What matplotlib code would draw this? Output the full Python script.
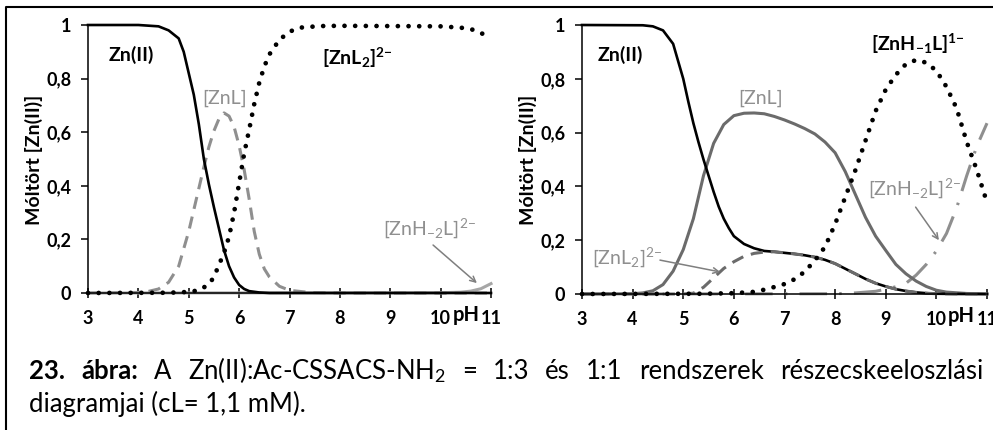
import matplotlib
matplotlib.use('Agg')
import matplotlib.pyplot as plt
from matplotlib.lines import Line2D

plt.rcParams['font.family'] = ['Lato', 'DejaVu Sans']
plt.rcParams['mathtext.fontset'] = 'custom'
plt.rcParams['mathtext.rm'] = 'Lato'
plt.rcParams['mathtext.bf'] = 'Lato:bold'
plt.rcParams['mathtext.it'] = 'Lato:italic'

# ---- 1:3 system (left) ----
ph_l_zn = [3.0, 4.0, 4.4, 4.6, 4.8, 4.9, 5.0, 5.1, 5.2, 5.3, 5.4, 5.5, 5.6, 5.7, 5.8,
           5.9, 6.0, 6.1, 6.2, 6.4, 6.6, 11.0]
l_zn = [1.0, 1.0, 0.995, 0.98, 0.95, 0.9, 0.82, 0.74, 0.63, 0.50, 0.405, 0.32, 0.24,
        0.16, 0.10, 0.058, 0.03, 0.015, 0.007, 0.002, 0.0, 0.0]

ph_l_znl = [3.0, 4.0, 4.2, 4.4, 4.6, 4.8, 5.0, 5.1, 5.2, 5.3, 5.4, 5.5, 5.6, 5.7, 5.8,
            5.9, 6.0, 6.1, 6.2, 6.3, 6.4, 6.5, 6.6, 6.8, 7.0, 7.4, 8.0, 11.0]
l_znl = [0.0, 0.002, 0.006, 0.015, 0.04, 0.10, 0.23, 0.31, 0.39, 0.47, 0.545, 0.605,
         0.65, 0.672, 0.66, 0.62, 0.55, 0.46, 0.35, 0.23, 0.145, 0.09, 0.06, 0.025,
         0.01, 0.002, 0.0, 0.0]

ph_l_znl2 = [3.0, 4.6, 5.0, 5.2, 5.4, 5.5, 5.6, 5.7, 5.8, 5.9, 6.0, 6.1, 6.2, 6.3, 6.4,
             6.5, 6.6, 6.8, 7.0, 7.2, 7.6, 8.0, 10.0, 10.4, 10.6, 10.8, 11.0]
l_znl2 = [0.0, 0.001, 0.004, 0.01, 0.032, 0.06, 0.105, 0.15, 0.21, 0.30, 0.41, 0.52,
          0.61, 0.705, 0.785, 0.845, 0.89, 0.945, 0.975, 0.99, 0.996, 0.997, 0.995,
          0.99, 0.985, 0.97, 0.953]

ph_l_znh2l = [3.0, 10.0, 10.4, 10.6, 10.8, 11.0]
l_znh2l = [0.0, 0.001, 0.003, 0.007, 0.016, 0.035]

# ---- 1:1 system (right) ----
ph_r_zn = [3.0, 4.2, 4.4, 4.6, 4.8, 5.0, 5.1, 5.2, 5.3, 5.4, 5.5, 5.6, 5.7, 5.8, 5.9,
           6.0, 6.2, 6.4, 6.6, 6.8, 7.0, 7.2, 7.4, 7.6, 7.8, 8.0, 8.2, 8.4, 8.6, 8.8,
           9.0, 9.2, 9.4, 9.6, 9.8, 10.0, 10.5, 11.0]
r_zn = [1.0, 0.999, 0.995, 0.98, 0.93, 0.80, 0.715, 0.635, 0.565, 0.50, 0.44, 0.38,
        0.325, 0.28, 0.245, 0.215, 0.186, 0.17, 0.16, 0.157, 0.153, 0.149, 0.144,
        0.137, 0.127, 0.113, 0.094, 0.075, 0.056, 0.04, 0.028, 0.018, 0.011, 0.006,
        0.003, 0.001, 0.0, 0.0]

ph_r_znl = [3.0, 4.0, 4.2, 4.4, 4.6, 4.8, 5.0, 5.2, 5.4, 5.6, 5.8, 6.0, 6.2, 6.4, 6.6,
            6.8, 7.0, 7.2, 7.4, 7.6, 7.8, 8.0, 8.2, 8.4, 8.6, 8.8, 9.0, 9.2, 9.4, 9.6,
            9.8, 10.0, 10.2, 10.6, 11.0]
r_znl = [0.0, 0.001, 0.004, 0.012, 0.035, 0.085, 0.165, 0.28, 0.44, 0.56, 0.63, 0.663,
         0.672, 0.673, 0.67, 0.66, 0.647, 0.632, 0.615, 0.595, 0.565, 0.525, 0.455,
         0.37, 0.285, 0.215, 0.162, 0.11, 0.075, 0.048, 0.028, 0.014, 0.007, 0.002, 0.0]

ph_r_znl2 = [3.0, 5.0, 5.2, 5.4, 5.6, 5.8, 6.0, 6.2, 6.4, 6.6, 6.8, 7.0, 7.2, 7.4, 7.6,
             7.8, 8.0, 8.2, 8.4, 8.6, 8.8, 9.0, 9.2, 9.4, 9.6, 9.8, 10.0, 10.5, 11.0]
r_znl2 = [0.0, 0.0, 0.003, 0.025, 0.06, 0.095, 0.12, 0.14, 0.151, 0.156, 0.157, 0.153,
          0.149, 0.144, 0.137, 0.127, 0.113, 0.094, 0.075, 0.056, 0.04, 0.028, 0.018,
          0.011, 0.006, 0.003, 0.001, 0.0, 0.0]

ph_r_znh1l = [3.0, 5.4, 6.0, 6.4, 6.6, 6.8, 7.0, 7.2, 7.4, 7.6, 7.8, 8.0, 8.2, 8.4, 8.6,
              8.8, 9.0, 9.2, 9.4, 9.6, 9.8, 10.0, 10.2, 10.4, 10.6, 10.8, 11.0]
r_znh1l = [0.0, 0.001, 0.003, 0.008, 0.016, 0.026, 0.037, 0.055, 0.083, 0.125, 0.175,
           0.26, 0.36, 0.46, 0.57, 0.68, 0.76, 0.815, 0.855, 0.87, 0.86, 0.83, 0.77,
           0.69, 0.565, 0.46, 0.34]

ph_r_znh2l = [3.0, 8.0, 8.4, 8.8, 9.0, 9.2, 9.4, 9.6, 9.8, 10.0, 10.2, 10.4, 10.6, 10.8, 11.0]
r_znh2l = [0.0, 0.001, 0.004, 0.01, 0.018, 0.027, 0.04, 0.07, 0.11, 0.16, 0.225, 0.32,
           0.44, 0.55, 0.635]

xticks = [3, 4, 5, 6, 7, 8, 9, 10, 11]
yticks = [0, 0.2, 0.4, 0.6, 0.8, 1]
ytick_labels = ['0', '0,2', '0,4', '0,6', '0,8', '1']

W, H = 993, 430
fig = plt.figure(figsize=(W / 100, H / 100), dpi=100)

dotted = dict(color='black', lw=3.4, linestyle=(0, (0.01, 2.25)), dash_capstyle='round')
black_solid = dict(color='black', lw=1.9)
light_gray = '#8f8f8f'
dark_gray = '#6b6b6b'
arrow = dict(arrowstyle='->', color='#7f7f7f', lw=1.1, shrinkA=0, shrinkB=0)
lab = 14


def setup(ax):
    ax.set_xlim(3, 11)
    ax.set_ylim(0, 1)
    for s in ['top', 'right']:
        ax.spines[s].set_visible(False)
    for s in ['left', 'bottom']:
        ax.spines[s].set_linewidth(1.1)
    ax.set_xticks(xticks)
    ax.set_xticklabels([str(t) for t in xticks], fontsize=13, fontweight='bold')
    ax.set_yticks(yticks)
    ax.set_yticklabels(ytick_labels, fontsize=13, fontweight='bold')
    ax.tick_params(axis='x', direction='inout', length=7, width=1.1, pad=9)
    ax.tick_params(axis='y', direction='out', length=5, width=1.1, pad=7)
    ax.text(10.5, -0.083, 'pH', transform=ax.get_xaxis_transform(), ha='center',
            va='center', fontsize=14.5, fontweight='bold')


# left panel
ax1 = fig.add_axes([88 / W, 1 - 293 / H, 403 / W, 268 / H])
setup(ax1)
ax1.plot(ph_l_znh2l, l_znh2l, color='#a6a6a6', lw=2.2, clip_on=False)
ax1.plot(ph_l_znl, l_znl, color=light_gray, lw=2.2, linestyle=(0, (4, 2.6)), clip_on=False)
ax1.plot(ph_l_zn, l_zn, clip_on=False, **black_solid)
ax1.plot(ph_l_znl2, l_znl2, clip_on=False, **dotted)
ax1.text(3.85, 0.89, 'Zn(II)', ha='center', va='center', fontsize=lab, fontweight='bold')
ax1.text(5.72, 0.728, '[ZnL]', ha='center', va='center', fontsize=lab, color=light_gray)
ax1.text(8.34, 0.877, r'[ZnL$_\mathbf{2}$]$^\mathbf{2{-}}$', ha='center', va='center',
         fontsize=lab, fontweight='bold')
ax1.text(9.78, 0.243, r'[ZnH$_{-2}$L]$^{2{-}}$', ha='center', va='center', fontsize=lab,
         color=light_gray)
ax1.annotate('', xy=(10.72, 0.037), xytext=(9.85, 0.179), arrowprops=arrow)

# right panel
ax2 = fig.add_axes([582 / W, 1 - 294 / H, 405 / W, 269 / H])
setup(ax2)
ax2.plot(ph_r_znh2l, r_znh2l, color=light_gray, lw=2.2, linestyle=(0, (9, 4, 0.8, 4)),
         clip_on=False)
ax2.plot(ph_r_znl, r_znl, color=dark_gray, lw=2.2, clip_on=False)
ax2.plot(ph_r_zn, r_zn, clip_on=False, **black_solid)
ax2.plot(ph_r_znl2, r_znl2, color=dark_gray, lw=2.2, linestyle=(0, (4, 2.6)), clip_on=False)
ax2.plot(ph_r_znh1l, r_znh1l, clip_on=False, **dotted)
ax2.text(3.75, 0.887, 'Zn(II)', ha='center', va='center', fontsize=lab, fontweight='bold')
ax2.text(6.52, 0.729, '[ZnL]', ha='center', va='center', fontsize=lab, color=light_gray)
ax2.text(9.63, 0.93, r'[ZnH$_\mathbf{{-}1}$L]$^\mathbf{1{-}}$', ha='center', va='center',
         fontsize=lab, fontweight='bold')
ax2.text(3.9, 0.137, r'[ZnL$_2$]$^{2{-}}$', ha='center', va='center', fontsize=lab,
         color=light_gray)
ax2.text(9.56, 0.394, r'[ZnH$_{-2}$L]$^{2{-}}$', ha='center', va='center', fontsize=lab,
         color=light_gray)
ax2.annotate('', xy=(5.73, 0.082), xytext=(4.54, 0.126), arrowprops=arrow)
ax2.annotate('', xy=(10.05, 0.2), xytext=(9.59, 0.323), arrowprops=arrow)

# y labels
for xc in [34, 528]:
    fig.text(xc / W, 1 - 160 / H, 'Móltört [Zn(II)]', rotation=90, ha='center',
             va='center', fontsize=14, fontweight='bold')

# frame around the figure
fig.add_artist(Line2D([6 / W, 6 / W, 1.01], [-0.01, 1 - 7 / H, 1 - 7 / H],
                      transform=fig.transFigure, color='black', lw=1.5))

# caption, first line justified
cap_words = [('23.', 'bold'), ('ábra:', 'bold'), ('A', 'normal'),
             ('Zn(II):Ac-CSSACS-NH$_2$', 'normal'), ('=', 'normal'), ('1:3', 'normal'),
             ('és', 'normal'), ('1:1', 'normal'), ('rendszerek', 'normal'),
             ('részecskeeloszlási', 'normal')]
cap_size = 18.5
x_start, x_end = 29, 983
renderer = fig.canvas.get_renderer()
texts = [fig.text(0, 1 - 379 / H, w, fontsize=cap_size, fontweight=wt, va='baseline')
         for w, wt in cap_words]
widths = [t.get_window_extent(renderer).width for t in texts]
gap = (x_end - x_start - sum(widths)) / (len(texts) - 1)
x = x_start
for t, wd in zip(texts, widths):
    t.set_x(x / W)
    x += wd + gap
fig.text(x_start / W, 1 - 412 / H, 'diagramjai (cL= 1,1 mM).', fontsize=cap_size,
         va='baseline')

fig.savefig('out.png', dpi=100)
